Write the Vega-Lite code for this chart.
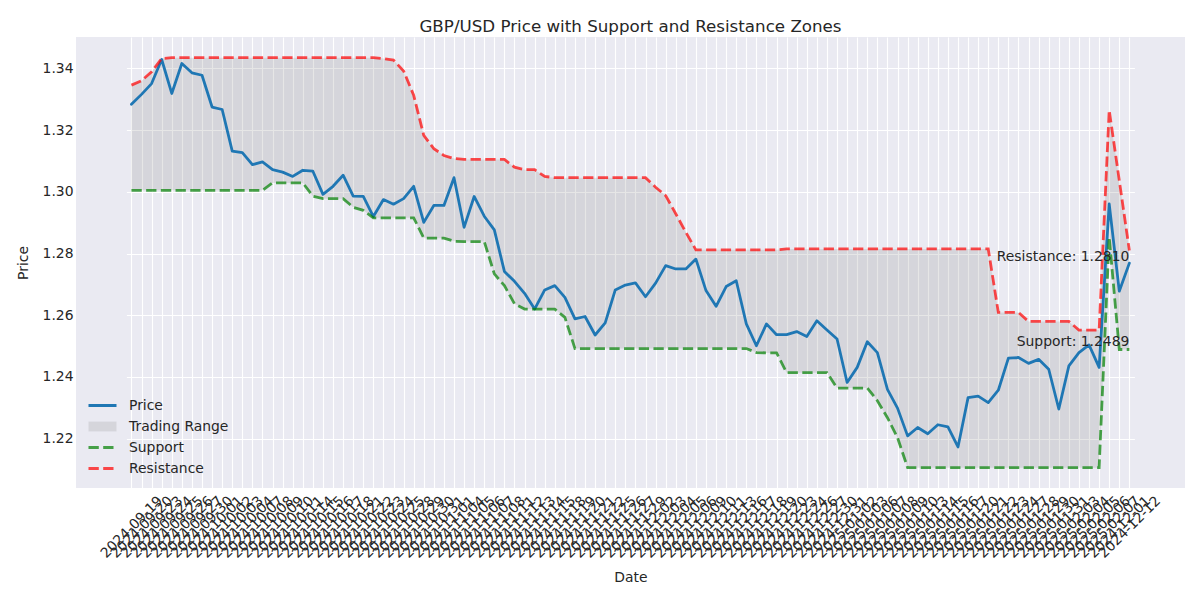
{
  "$schema": "https://vega.github.io/schema/vega-lite/v6.json",
  "width": 1109,
  "height": 451,
  "autosize": {"type": "none"},
  "padding": {"left": 76, "top": 37, "right": 15, "bottom": 112},
  "background": "white",
  "title": {"text": "GBP/USD Price with Support and Resistance Zones", "fontSize": 16.7, "font": "DejaVu Sans", "fontWeight": "normal", "color": "#262626", "offset": 1, "anchor": "middle"},
  "config": {
    "view": {"fill": "#EAEAF2", "stroke": null},
    "font": "DejaVu Sans",
    "axis": {"domain": false, "ticks": false, "gridColor": "white", "gridWidth": 1.1, "gridOpacity": 1, "labelColor": "#262626", "titleColor": "#262626", "labelFont": "DejaVu Sans", "titleFont": "DejaVu Sans", "labelFontSize": 13.9, "titleFontSize": 13.9, "titleFontWeight": "normal"},
    "legend": {"orient": "bottom-left", "offset": 12, "labelFontSize": 13.9, "labelColor": "#262626", "labelFont": "DejaVu Sans", "symbolSize": 196, "labelOffset": 18, "symbolOffset": 6, "padding": 0, "symbolType": "M-2,0H2", "symbolStrokeWidth": 2.78, "symbolOpacity": 1}
  },
  "data": {"values": [
    {"date":"2024-09-19","price":1.3284,"support":1.3005,"resistance":1.3346},
    {"date":"2024-09-20","price":1.3316,"support":1.3005,"resistance":1.3360},
    {"date":"2024-09-23","price":1.3351,"support":1.3005,"resistance":1.3389},
    {"date":"2024-09-24","price":1.3429,"support":1.3005,"resistance":1.3432},
    {"date":"2024-09-25","price":1.3319,"support":1.3005,"resistance":1.3435},
    {"date":"2024-09-26","price":1.3416,"support":1.3005,"resistance":1.3435},
    {"date":"2024-09-27","price":1.3386,"support":1.3005,"resistance":1.3435},
    {"date":"2024-09-30","price":1.3378,"support":1.3005,"resistance":1.3435},
    {"date":"2024-10-01","price":1.3275,"support":1.3005,"resistance":1.3435},
    {"date":"2024-10-02","price":1.3267,"support":1.3005,"resistance":1.3435},
    {"date":"2024-10-03","price":1.3132,"support":1.3005,"resistance":1.3435},
    {"date":"2024-10-04","price":1.3127,"support":1.3005,"resistance":1.3435},
    {"date":"2024-10-07","price":1.3088,"support":1.3005,"resistance":1.3435},
    {"date":"2024-10-08","price":1.3097,"support":1.3005,"resistance":1.3435},
    {"date":"2024-10-09","price":1.3072,"support":1.3029,"resistance":1.3435},
    {"date":"2024-10-10","price":1.3064,"support":1.3029,"resistance":1.3435},
    {"date":"2024-10-11","price":1.3050,"support":1.3029,"resistance":1.3435},
    {"date":"2024-10-14","price":1.3070,"support":1.3029,"resistance":1.3435},
    {"date":"2024-10-15","price":1.3067,"support":1.2986,"resistance":1.3435},
    {"date":"2024-10-16","price":1.2992,"support":1.2978,"resistance":1.3435},
    {"date":"2024-10-17","price":1.3018,"support":1.2978,"resistance":1.3435},
    {"date":"2024-10-18","price":1.3054,"support":1.2978,"resistance":1.3435},
    {"date":"2024-10-21","price":1.2986,"support":1.2950,"resistance":1.3435},
    {"date":"2024-10-22","price":1.2985,"support":1.2940,"resistance":1.3435},
    {"date":"2024-10-23","price":1.2920,"support":1.2916,"resistance":1.3435},
    {"date":"2024-10-24","price":1.2975,"support":1.2916,"resistance":1.3432},
    {"date":"2024-10-25","price":1.2960,"support":1.2916,"resistance":1.3427},
    {"date":"2024-10-28","price":1.2978,"support":1.2916,"resistance":1.3392},
    {"date":"2024-10-29","price":1.3018,"support":1.2916,"resistance":1.3313},
    {"date":"2024-10-30","price":1.2901,"support":1.2850,"resistance":1.3183},
    {"date":"2024-10-31","price":1.2956,"support":1.2850,"resistance":1.3140},
    {"date":"2024-11-01","price":1.2956,"support":1.2850,"resistance":1.3118},
    {"date":"2024-11-04","price":1.3046,"support":1.2840,"resistance":1.3108},
    {"date":"2024-11-05","price":1.2885,"support":1.2839,"resistance":1.3105},
    {"date":"2024-11-06","price":1.2985,"support":1.2839,"resistance":1.3105},
    {"date":"2024-11-07","price":1.2921,"support":1.2839,"resistance":1.3105},
    {"date":"2024-11-08","price":1.2877,"support":1.2734,"resistance":1.3105},
    {"date":"2024-11-11","price":1.2742,"support":1.2696,"resistance":1.3105},
    {"date":"2024-11-12","price":1.2710,"support":1.2637,"resistance":1.3080},
    {"date":"2024-11-13","price":1.2671,"support":1.2620,"resistance":1.3072},
    {"date":"2024-11-14","price":1.2620,"support":1.2620,"resistance":1.3072},
    {"date":"2024-11-15","price":1.2682,"support":1.2620,"resistance":1.3050},
    {"date":"2024-11-18","price":1.2696,"support":1.2620,"resistance":1.3046},
    {"date":"2024-11-19","price":1.2658,"support":1.2593,"resistance":1.3046},
    {"date":"2024-11-20","price":1.2588,"support":1.2492,"resistance":1.3046},
    {"date":"2024-11-21","price":1.2596,"support":1.2492,"resistance":1.3046},
    {"date":"2024-11-22","price":1.2536,"support":1.2492,"resistance":1.3046},
    {"date":"2024-11-25","price":1.2575,"support":1.2492,"resistance":1.3046},
    {"date":"2024-11-26","price":1.2682,"support":1.2492,"resistance":1.3046},
    {"date":"2024-11-27","price":1.2698,"support":1.2492,"resistance":1.3046},
    {"date":"2024-11-29","price":1.2705,"support":1.2492,"resistance":1.3046},
    {"date":"2024-12-02","price":1.2660,"support":1.2492,"resistance":1.3046},
    {"date":"2024-12-03","price":1.2704,"support":1.2492,"resistance":1.3015},
    {"date":"2024-12-04","price":1.2761,"support":1.2492,"resistance":1.2988},
    {"date":"2024-12-05","price":1.2750,"support":1.2492,"resistance":1.2929},
    {"date":"2024-12-06","price":1.2750,"support":1.2492,"resistance":1.2869},
    {"date":"2024-12-09","price":1.2782,"support":1.2492,"resistance":1.2812},
    {"date":"2024-12-10","price":1.2680,"support":1.2492,"resistance":1.2812},
    {"date":"2024-12-11","price":1.2629,"support":1.2492,"resistance":1.2812},
    {"date":"2024-12-13","price":1.2693,"support":1.2492,"resistance":1.2812},
    {"date":"2024-12-16","price":1.2712,"support":1.2492,"resistance":1.2812},
    {"date":"2024-12-17","price":1.2572,"support":1.2492,"resistance":1.2812},
    {"date":"2024-12-18","price":1.2501,"support":1.2479,"resistance":1.2812},
    {"date":"2024-12-19","price":1.2572,"support":1.2478,"resistance":1.2812},
    {"date":"2024-12-20","price":1.2537,"support":1.2478,"resistance":1.2812},
    {"date":"2024-12-23","price":1.2537,"support":1.2414,"resistance":1.2815},
    {"date":"2024-12-24","price":1.2547,"support":1.2414,"resistance":1.2815},
    {"date":"2024-12-26","price":1.2531,"support":1.2414,"resistance":1.2815},
    {"date":"2024-12-27","price":1.2582,"support":1.2414,"resistance":1.2815},
    {"date":"2024-12-30","price":1.2552,"support":1.2414,"resistance":1.2815},
    {"date":"2024-12-31","price":1.2523,"support":1.2364,"resistance":1.2815},
    {"date":"2025-01-02","price":1.2382,"support":1.2364,"resistance":1.2815},
    {"date":"2025-01-03","price":1.2431,"support":1.2364,"resistance":1.2815},
    {"date":"2025-01-06","price":1.2514,"support":1.2364,"resistance":1.2815},
    {"date":"2025-01-07","price":1.2479,"support":1.2323,"resistance":1.2815},
    {"date":"2025-01-08","price":1.2360,"support":1.2268,"resistance":1.2815},
    {"date":"2025-01-09","price":1.2299,"support":1.2203,"resistance":1.2815},
    {"date":"2025-01-10","price":1.2209,"support":1.2106,"resistance":1.2815},
    {"date":"2025-01-13","price":1.2236,"support":1.2106,"resistance":1.2815},
    {"date":"2025-01-14","price":1.2216,"support":1.2106,"resistance":1.2815},
    {"date":"2025-01-15","price":1.2245,"support":1.2106,"resistance":1.2815},
    {"date":"2025-01-16","price":1.2238,"support":1.2106,"resistance":1.2815},
    {"date":"2025-01-17","price":1.2173,"support":1.2106,"resistance":1.2815},
    {"date":"2025-01-20","price":1.2333,"support":1.2106,"resistance":1.2815},
    {"date":"2025-01-21","price":1.2338,"support":1.2106,"resistance":1.2815},
    {"date":"2025-01-22","price":1.2317,"support":1.2106,"resistance":1.2815},
    {"date":"2025-01-23","price":1.2357,"support":1.2106,"resistance":1.2609},
    {"date":"2025-01-24","price":1.2461,"support":1.2106,"resistance":1.2609},
    {"date":"2025-01-27","price":1.2463,"support":1.2106,"resistance":1.2609},
    {"date":"2025-01-28","price":1.2444,"support":1.2106,"resistance":1.2580},
    {"date":"2025-01-29","price":1.2457,"support":1.2106,"resistance":1.2580},
    {"date":"2025-01-30","price":1.2425,"support":1.2106,"resistance":1.2580},
    {"date":"2025-01-31","price":1.2296,"support":1.2106,"resistance":1.2580},
    {"date":"2025-02-03","price":1.2436,"support":1.2106,"resistance":1.2580},
    {"date":"2025-02-04","price":1.2479,"support":1.2106,"resistance":1.2552},
    {"date":"2025-02-05","price":1.2504,"support":1.2106,"resistance":1.2552},
    {"date":"2025-02-06","price":1.2431,"support":1.2106,"resistance":1.2552},
    {"date":"2025-02-07","price":1.2961,"support":1.2853,"resistance":1.3265},
    {"date":"2024-12-01","price":1.2678,"support":1.2489,"resistance":1.3037},
    {"date":"2024-12-12","price":1.2769,"support":1.2489,"resistance":1.2810}
  ]},
  "encoding": {
    "x": {"field": "date", "type": "ordinal", "sort": null,
      "scale": {"type": "point", "range": [50.4, 1058.4]},
      "axis": {"title": "Date", "labelAngle": -45, "labelAlign": "center", "labelBaseline": "middle", "labelPadding": 39, "titlePadding": 10, "grid": true, "labelOverlap": false}},
    "color": {"type": "nominal",
      "scale": {"domain": ["Price", "Trading Range", "Support", "Resistance"], "range": ["#1f77b4", "#808080", "#008000", "#ff0000"]},
      "legend": {"title": null, "rowPadding": 5,
        "encode": {"symbols": {"update": {
          "shape": {"signal": "datum.value === 'Trading Range' ? 'M-2,-0.7H2V0.7H-2Z' : 'M-2,0H2'"},
          "strokeWidth": {"value": 2.78},
          "strokeDash": {"signal": "(datum.value === 'Support' || datum.value === 'Resistance') ? [10.3, 4.4] : [1, 0]"},
          "opacity": {"value": 1},
          "fillOpacity": {"signal": "datum.value === 'Trading Range' ? 0.2 : 0"},
          "strokeOpacity": {"signal": "datum.value === 'Trading Range' ? 0 : (datum.value === 'Price' ? 1 : 0.7)"}
        }}}}
    }
  },
  "layer": [
    {
      "mark": {"type": "area", "opacity": 0.2},
      "encoding": {
        "y": {"field": "support", "type": "quantitative",
          "scale": {"domain": [1.2040, 1.3502], "nice": false, "zero": false},
          "axis": {"title": "Price", "values": [1.22, 1.24, 1.26, 1.28, 1.30, 1.32, 1.34], "format": ".2f", "labelPadding": 3, "titlePadding": 12}},
        "y2": {"field": "resistance"},
        "color": {"datum": "Trading Range"}
      }
    },
    {
      "mark": {"type": "line", "strokeWidth": 2.78, "strokeCap": "round", "strokeJoin": "round"},
      "encoding": {"y": {"field": "price", "type": "quantitative"}, "color": {"datum": "Price"}}
    },
    {
      "mark": {"type": "line", "strokeWidth": 2.78, "strokeDash": [10.3, 4.4], "opacity": 0.7},
      "encoding": {"y": {"field": "support", "type": "quantitative"}, "color": {"datum": "Support"}}
    },
    {
      "mark": {"type": "line", "strokeWidth": 2.78, "strokeDash": [10.3, 4.4], "opacity": 0.7},
      "encoding": {"y": {"field": "resistance", "type": "quantitative"}, "color": {"datum": "Resistance"}}
    },
    {
      "data": {"values": [{"date": "2024-12-12", "value": 1.2810, "label": "Resistance: 1.2810"}]},
      "mark": {"type": "text", "align": "right", "baseline": "top", "fontSize": 13.9, "color": "#262626", "font": "DejaVu Sans"},
      "encoding": {"y": {"field": "value", "type": "quantitative"}, "text": {"field": "label"}, "color": {"value": "#262626"}}
    },
    {
      "data": {"values": [{"date": "2024-12-12", "value": 1.2489, "label": "Support: 1.2489"}]},
      "mark": {"type": "text", "align": "right", "baseline": "bottom", "fontSize": 13.9, "color": "#262626", "font": "DejaVu Sans"},
      "encoding": {"y": {"field": "value", "type": "quantitative"}, "text": {"field": "label"}, "color": {"value": "#262626"}}
    }
  ]
}
